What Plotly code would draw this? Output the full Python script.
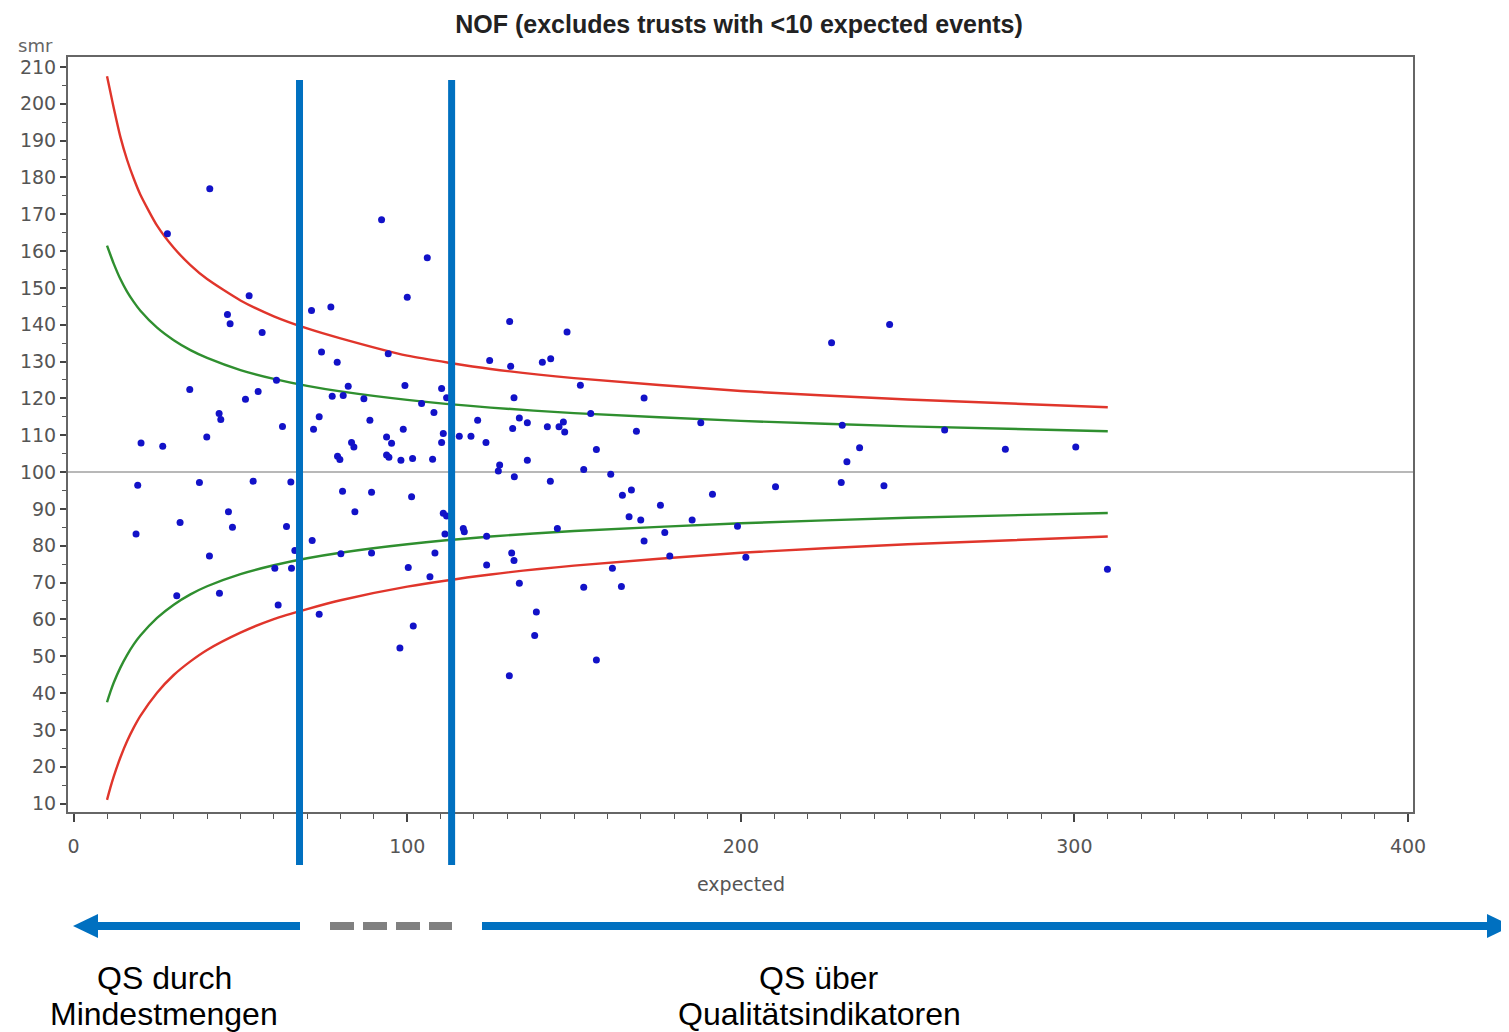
import plotly.graph_objects as go

# ---------------- data ----------------
expected = [40.8, 28.1, 52.6, 46.1, 46.9, 56.5, 60.8, 34.8, 55.3, 51.5, 43.6, 44.1, 62.6, 39.9, 20.2,
            26.7, 19.2, 37.7, 53.8, 65.1, 46.4, 31.9, 47.6, 63.8, 18.7, 66.3, 40.7, 60.3, 65.3, 30.9,
            43.7, 61.3, 92.3, 106.0, 100.0, 71.3, 77.1, 130.7, 147.9, 74.3, 79.0, 94.3, 124.7, 131.0,
            140.5, 143.0, 82.3, 99.3, 110.3, 77.5, 80.8, 87.0, 111.8, 132.0, 151.9, 104.3, 108.0, 73.6,
            71.9, 88.8, 98.8, 121.1, 133.6, 136.0, 131.6, 142.0, 146.8, 147.2, 145.5, 110.8, 110.3,
            115.6, 119.1, 123.6, 83.3, 84.0, 93.8, 95.3, 79.1, 79.8, 93.8, 94.5, 98.1, 101.6, 107.6,
            136.0, 127.7, 127.3, 132.1, 142.9, 80.6, 89.3, 101.3, 84.3, 110.8, 111.8, 116.8, 117.1,
            111.3, 145.0, 123.8, 71.5, 80.1, 89.3, 108.3, 131.3, 132.0, 100.3, 123.8, 106.8, 133.6,
            73.6, 138.7, 138.2, 101.8, 97.8, 130.6, 227.2, 244.6, 171.0, 155.0, 168.7, 188.0, 230.4,
            235.6, 231.8, 156.7, 152.9, 161.0, 230.1, 242.9, 210.4, 164.5, 167.2, 191.5, 175.9, 166.5,
            170.0, 185.4, 177.2, 199.0, 171.0, 161.5, 178.7, 201.5, 152.9, 164.2, 156.7, 261.1, 279.3,
            300.4, 309.9]
smr = [176.9, 164.7, 147.9, 142.8, 140.3, 137.9, 124.9, 122.4, 121.9, 119.8, 115.9, 114.3, 112.4, 109.5, 107.9,
       107.0, 96.4, 97.2, 97.5, 97.3, 89.2, 86.3, 85.0, 85.2, 83.2, 78.7, 77.2, 73.9, 73.9, 66.4,
       67.1, 63.9, 168.5, 158.2, 147.5, 143.9, 144.8, 140.9, 138.0, 132.6, 129.8, 132.1, 130.3, 128.7,
       129.8, 130.8, 123.3, 123.5, 122.7, 120.6, 120.8, 119.9, 120.2, 120.2, 123.6, 118.6, 116.2, 115.0,
       111.6, 114.1, 111.6, 114.1, 114.7, 113.4, 111.8, 112.3, 113.6, 110.9, 112.3, 110.5, 108.0,
       109.7, 109.7, 108.0, 108.0, 106.8, 109.5, 107.8, 104.3, 103.4, 104.6, 104.0, 103.2, 103.7, 103.5,
       103.2, 101.9, 100.3, 98.7, 97.5, 94.8, 94.5, 93.3, 89.2, 88.8, 88.1, 84.7, 83.8,
       83.2, 84.7, 82.6, 81.4, 77.8, 78.0, 78.0, 78.0, 76.0, 74.1, 74.8, 71.6, 69.8,
       61.4, 62.0, 55.6, 58.2, 52.2, 44.7, 135.1, 140.1, 120.1, 115.9, 111.1, 113.4, 112.7,
       106.6, 102.8, 106.1, 100.7, 99.4, 97.2, 96.3, 96.0, 93.7, 95.1, 94.0, 91.0, 87.9,
       87.0, 87.0, 83.6, 85.3, 81.3, 73.9, 77.2, 76.9, 68.7, 68.9, 49.0, 111.4, 106.2,
       106.8, 73.6]

limit_expected = [10, 11, 12, 14, 16, 18, 20, 25, 30, 35, 40, 50, 60, 70, 80, 100, 125, 150, 200, 250, 310]
upper_998 = [207.5, 203.2, 198.9, 191.0, 184.8, 179.7, 175.3, 166.9, 160.9, 156.2, 152.4, 146.6, 142.3,
             139.0, 136.3, 131.6, 128.0, 125.5, 122.0, 119.7, 117.6]
upper_95 = [161.5, 159.0, 156.6, 152.4, 149.0, 146.2, 143.8, 139.2, 135.8, 133.1, 131.0, 127.7, 125.3,
            123.4, 121.9, 119.6, 117.5, 116.0, 113.9, 112.4, 111.1]
lower_95 = [37.5, 40.3, 42.8, 46.9, 50.3, 53.2, 55.6, 60.4, 64.0, 66.8, 69.0, 72.3, 74.7,
            76.6, 78.1, 80.4, 82.5, 84.0, 86.1, 87.6, 88.9]
lower_998 = [11.0, 14.3, 17.3, 22.5, 26.9, 30.6, 33.8, 40.1, 44.9, 48.6, 51.7, 56.4, 60.1,
             62.8, 65.2, 68.9, 72.2, 74.6, 78.1, 80.4, 82.5]

title_text = "NOF (excludes trusts with &lt;10 expected events)"
x_ticks = [0, 100, 200, 300, 400]
y_ticks = list(range(10, 211, 10))

# ---------------- layout helpers (page pixel coords; page has an 8px body margin) ----------------
OFF = 8
W, H = 1509 - OFF, 1032 - OFF
PL, PR, PT, PB = 68, 1413, 57, 812          # plot area in page pixels
L, R, T, B = PL - OFF, 1509 - PR, PT - OFF, 1032 - PB
PW, PH = PR - PL, PB - PT


def px(x):
    return (x - PL) / PW


def py(y):
    return 1 - (y - PT) / PH


FONT = "Liberation Sans, Arial, Helvetica, sans-serif"
TICKFONT = "DejaVu Sans, Verdana, sans-serif"
RED = "#e0352b"
GREEN = "#2f8f2f"
BLUE = "#0070c0"

fig = go.Figure()

for yv, col in [(upper_998, RED), (upper_95, GREEN), (lower_95, GREEN), (lower_998, RED)]:
    fig.add_trace(go.Scatter(x=limit_expected, y=yv, mode="lines",
                             line=dict(color=col, width=2.4, shape="spline", smoothing=0.6),
                             hoverinfo="skip", showlegend=False))

fig.add_trace(go.Scatter(x=expected, y=smr, mode="markers",
                         marker=dict(color="rgb(18,18,200)", size=7),
                         showlegend=False))

shapes = []
shapes.append(dict(type="line", xref="paper", x0=0, x1=1, yref="y", y0=100, y1=100,
                   line=dict(color="#a0a0a0", width=1.5), layer="below"))
for xv in (67.7, 113.3):
    shapes.append(dict(type="line", xref="x", x0=xv, x1=xv, yref="paper", y0=py(865), y1=py(80),
                       line=dict(color=BLUE, width=7)))
ay = py(926)
shapes.append(dict(type="line", xref="paper", yref="paper", x0=px(96), x1=px(300), y0=ay, y1=ay,
                   line=dict(color=BLUE, width=8)))
shapes.append(dict(type="path", xref="paper", yref="paper",
                   path=f"M {px(73)} {ay} L {px(98)} {py(914)} L {px(98)} {py(938)} Z",
                   fillcolor=BLUE, line=dict(width=0)))
shapes.append(dict(type="line", xref="paper", yref="paper", x0=px(330), x1=px(452), y0=ay, y1=ay,
                   line=dict(color="#808080", width=8, dash="24px,9px")))
shapes.append(dict(type="line", xref="paper", yref="paper", x0=px(482), x1=px(1490), y0=ay, y1=ay,
                   line=dict(color=BLUE, width=8)))
shapes.append(dict(type="path", xref="paper", yref="paper",
                   path=f"M {px(1512)} {ay} L {px(1487)} {py(914)} L {px(1487)} {py(938)} Z",
                   fillcolor=BLUE, line=dict(width=0)))


def note(text, x, y, size, color, family=FONT):
    return dict(text=text, xref="paper", yref="paper", x=px(x), y=py(y), xanchor="center",
                yanchor="middle", showarrow=False, font=dict(family=family, size=size, color=color))


annotations = [
    note("smr", 35, 45, 18, "#666", TICKFONT),
    note("expected", 741, 884, 19, "#555", TICKFONT),
    note("QS durch", 164, 978, 32, "#000"),
    note("Mindestmengen", 164, 1014, 32, "#000"),
    note("QS über", 819, 978, 32, "#000"),
    note("Qualitätsindikatoren", 819, 1014, 32, "#000"),
]

axis_common = dict(showgrid=False, zeroline=False, showline=True, mirror=True, linecolor="#666",
                   linewidth=2, ticks="outside", tickwidth=1.5, tickcolor="#444",
                   tickfont=dict(family=TICKFONT, size=19, color="#555"))

fig.update_layout(
    width=W, height=H,
    margin=dict(l=L, r=R, t=T, b=B),
    paper_bgcolor="white", plot_bgcolor="white",
    title=dict(text=f"<b>{title_text}</b>", x=(739 - OFF) / W, xanchor="center",
               y=1 - (24 - OFF) / H, yanchor="middle",
               font=dict(family=FONT, size=25, color="#222")),
    shapes=shapes, annotations=annotations,
    font=dict(family=FONT),
    xaxis=dict(range=[-1.7, 401.5], tickvals=x_ticks, ticktext=[str(v) for v in x_ticks],
               ticklen=8, ticklabelstandoff=8,
               minor=dict(dtick=10, tick0=0, ticks="outside", ticklen=5, tickwidth=1.2, tickcolor="#555",
                          showgrid=False),
               **axis_common),
    yaxis=dict(range=[7.7, 212.7], tickvals=y_ticks, ticktext=[str(v) for v in y_ticks],
               ticklen=6,
               minor=dict(dtick=5, tick0=0, ticks="outside", ticklen=4, tickwidth=1.2, tickcolor="#555",
                          showgrid=False),
               **axis_common),
)

fig.write_html("out.html")
